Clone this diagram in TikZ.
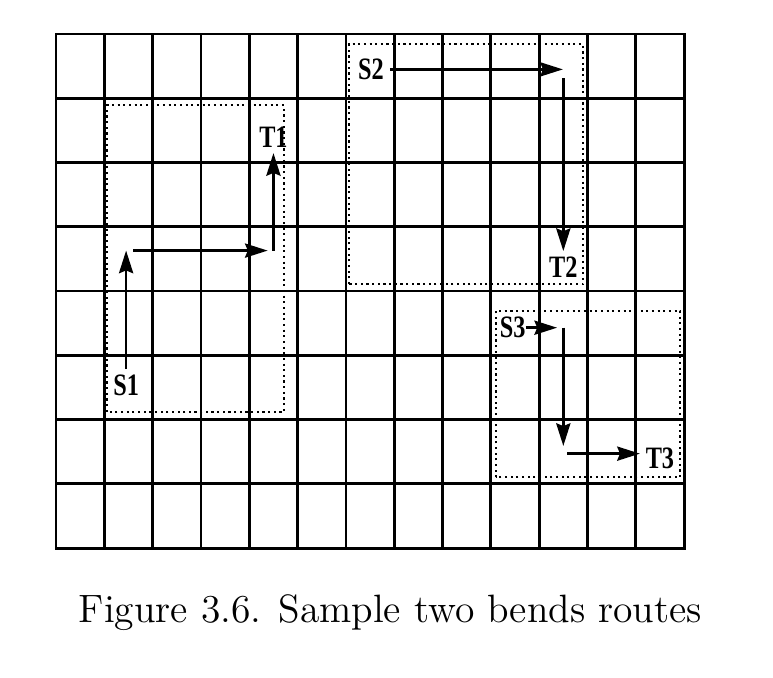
\documentclass[tikz,border=0pt]{standalone}
\usepackage{fontspec}
\newfontfamily\labelfont[FakeStretch=0.78]{Liberation Serif}
\usetikzlibrary{arrows.meta}

\tikzset{
  grid line/.style={line width=2pt, line cap=rect},
  region/.style={line width=1.5pt, dash pattern=on 1.5pt off 2.5pt},
  route/.style={line width=1.8pt, -{Stealth[length=16pt,width=10pt,inset=2pt]}},
  endpoint/.style={inner sep=4pt, font=\labelfont\bfseries\fontsize{22}{22}\selectfont}
}

\begin{document}
\begin{tikzpicture}[x=1.2cm, y=1.596cm]
\useasboundingbox (-1.16,-2.02) rectangle (14.84,8.53);
% Draw the grid
\foreach \x in {0,...,13}
    \draw[grid line] (\x,0) -- (\x,8);
\foreach \y in {0,...,8}
    \draw[grid line] (0,\y) -- (13,\y);
% Dotted regions round the routes
\draw[region] (1.06,2.12) rectangle (4.72,6.89);
\draw[region] (6.06,4.11) rectangle (10.91,7.84);
\draw[region] (9.1,1.1) rectangle (12.92,3.69);
% Define the sources and targets
\node[endpoint] (S1) at (1.45,2.53) {S1};
\node[endpoint] (T1) at (4.5,6.4) {T1};
\node[endpoint] (S2) at (6.52,7.45) {S2};
\node[endpoint] (T2) at (10.5,4.37) {T2};
\node[endpoint] (S3) at (9.45,3.43) {S3};
\node[endpoint] (T3) at (12.5,1.4) {T3};
% Route from S1 to T1
\coordinate (a1) at (1.45,4.63);
\coordinate (a2) at (1.6,4.63);
\coordinate (a3) at (4.38,4.63);
\coordinate (a4) at (4.5,4.63);
\draw[route] (S1) -- (a1);
\draw[route] (a2) -- (a3);
\draw[route] (a4) -- (a4 |- T1.south);
% Route from S2 to T2
\coordinate (b1) at (10.49,7.45);
\coordinate (b2) at (10.5,7.31);
\draw[route] (S2) -- (b1);
\draw[route] (b2) -- (b2 |- T2.north);
% Route from S3 to T3
\coordinate (c1) at (10.37,3.43);
\coordinate (c2) at (10.5,3.43);
\coordinate (c3) at (10.5,1.59);
\coordinate (c4) at (10.58,1.47);
\draw[route, shorten <=-4pt] (S3) -- (c1);
\draw[route] (c2) -- (c3);
\draw[route] (c4) -- (c4 -| T3.west);
% Caption
\node (caption) at (6.92,-1.0) {\scalebox{2.33}{\fontsize{12}{14}\selectfont Figure 3.6. Sample two bends routes}};
\end{tikzpicture}
\end{document}
